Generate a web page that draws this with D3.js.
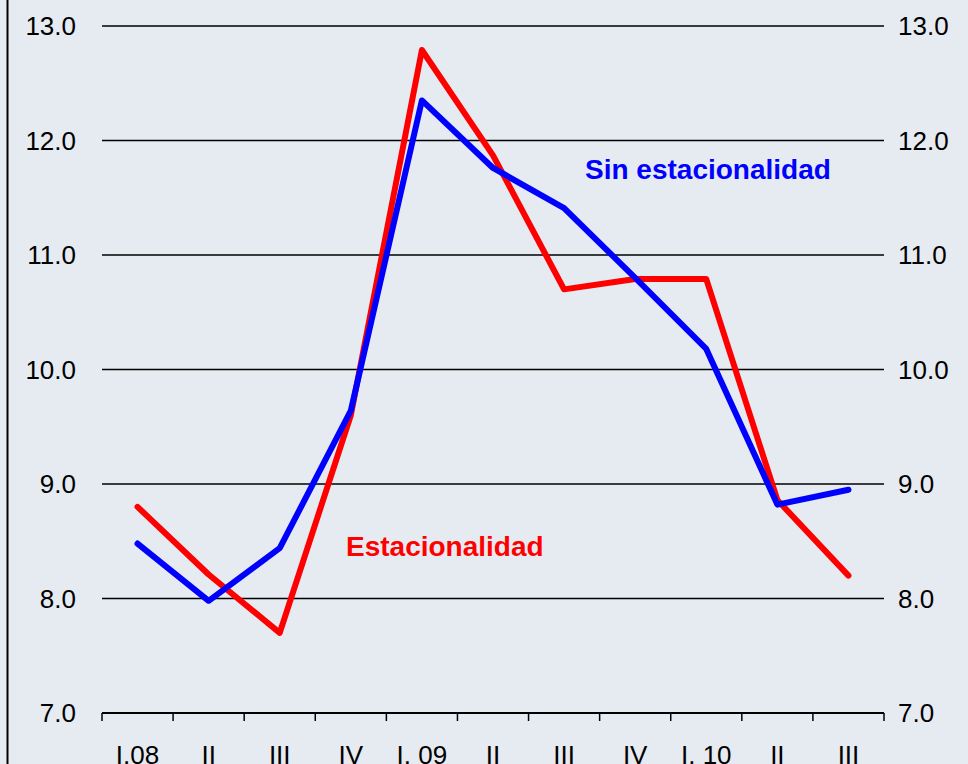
<!DOCTYPE html>
<html>
<head>
<meta charset="utf-8">
<script src="https://cdn.jsdelivr.net/npm/d3@7"></script>
<style>
body{margin:0;background:#e6eaf1;}
svg{display:block;}
</style>
</head>
<body>
<div id="chart"></div>
<script>
// quarters
var quarters = ["I.08","II","III","IV","I. 09","II","III","IV","I. 10","II","III"];
var estacionalidad = [8.80, 8.21, 7.70, 9.60, 12.79, 11.87, 10.70, 10.79, 10.79, 8.86, 8.20];
var sinEstacionalidad = [8.48, 7.98, 8.44, 9.64, 12.35, 11.76, 11.41, 10.80, 10.18, 8.82, 8.95];
var yTicks = [7, 8, 9, 10, 11, 12, 13];

var W = 968, H = 764;
var mLeft = 102, mRight = 884, mTop = 26, mBottom = 713;

var svg = d3.select("#chart").append("svg")
	.attr("width", W).attr("height", H)
	.style("font-family", "'Liberation Sans', Arial, sans-serif");

svg.append("rect").attr("width", W).attr("height", H).attr("fill", "#e6eaf1");

// left frame line
svg.append("line")
	.attr("x1", 7.5).attr("x2", 7.5).attr("y1", 0).attr("y2", H)
	.attr("stroke", "#000").attr("stroke-width", 2);

var idx = d3.range(quarters.length);
var x = d3.scaleBand().domain(idx).range([mLeft, mRight]);
var y = d3.scaleLinear().domain([7, 13]).range([mBottom, mTop]);

// gridlines
svg.selectAll(".grid").data(yTicks.slice(1)).enter().append("line")
	.attr("x1", mLeft).attr("x2", mRight)
	.attr("y1", function(d){ return y(d); })
	.attr("y2", function(d){ return y(d); })
	.attr("stroke", "#000").attr("stroke-width", 1.5);

// y axis labels, both sides
svg.selectAll(".yl").data(yTicks).enter().append("text")
	.attr("x", 76).attr("y", function(d){ return y(d); })
	.attr("dy", "0.36em").attr("text-anchor", "end")
	.style("font-size", "26px").attr("fill", "#000")
	.text(function(d){ return d.toFixed(1); });

svg.selectAll(".yr").data(yTicks).enter().append("text")
	.attr("x", 898).attr("y", function(d){ return y(d); })
	.attr("dy", "0.36em").attr("text-anchor", "start")
	.style("font-size", "26px").attr("fill", "#000")
	.text(function(d){ return d.toFixed(1); });

// x axis
var xAxis = d3.axisBottom(x).tickSize(0).tickFormat(function(i){ return quarters[i]; });
var gx = svg.append("g").attr("transform", "translate(0," + mBottom + ")").call(xAxis);
gx.select(".domain").remove();
gx.selectAll("text").style("font-size", "26px").attr("fill", "#000")
	.attr("y", 51).attr("dy", "0");

svg.append("line")
	.attr("x1", mLeft).attr("x2", mRight).attr("y1", mBottom).attr("y2", mBottom)
	.attr("stroke", "#000").attr("stroke-width", 2);

var bounds = idx.map(function(i){ return x(i); }).concat([mRight]);
svg.selectAll(".tk").data(bounds).enter().append("line")
	.attr("x1", function(d){ return d; }).attr("x2", function(d){ return d; })
	.attr("y1", mBottom).attr("y2", mBottom + 8)
	.attr("stroke", "#000").attr("stroke-width", 1.5);

var line = d3.line()
	.x(function(d, i){ return x(i) + x.bandwidth() / 2; })
	.y(function(d){ return y(d); });

svg.append("path").datum(estacionalidad)
	.attr("d", line).attr("fill", "none")
	.attr("stroke", "#ff0000").attr("stroke-width", 6)
	.attr("stroke-linejoin", "round").attr("stroke-linecap", "round");

svg.append("path").datum(sinEstacionalidad)
	.attr("d", line).attr("fill", "none")
	.attr("stroke", "#0000ff").attr("stroke-width", 6)
	.attr("stroke-linejoin", "round").attr("stroke-linecap", "round");

svg.append("text")
	.attr("x", 585).attr("y", 179)
	.style("font-size", "28px").style("font-weight", "bold")
	.attr("fill", "#0000ff").text("Sin estacionalidad");

svg.append("text")
	.attr("x", 346).attr("y", 556)
	.style("font-size", "28px").style("font-weight", "bold")
	.attr("fill", "#ff0000").text("Estacionalidad");
</script>
</body>
</html>
